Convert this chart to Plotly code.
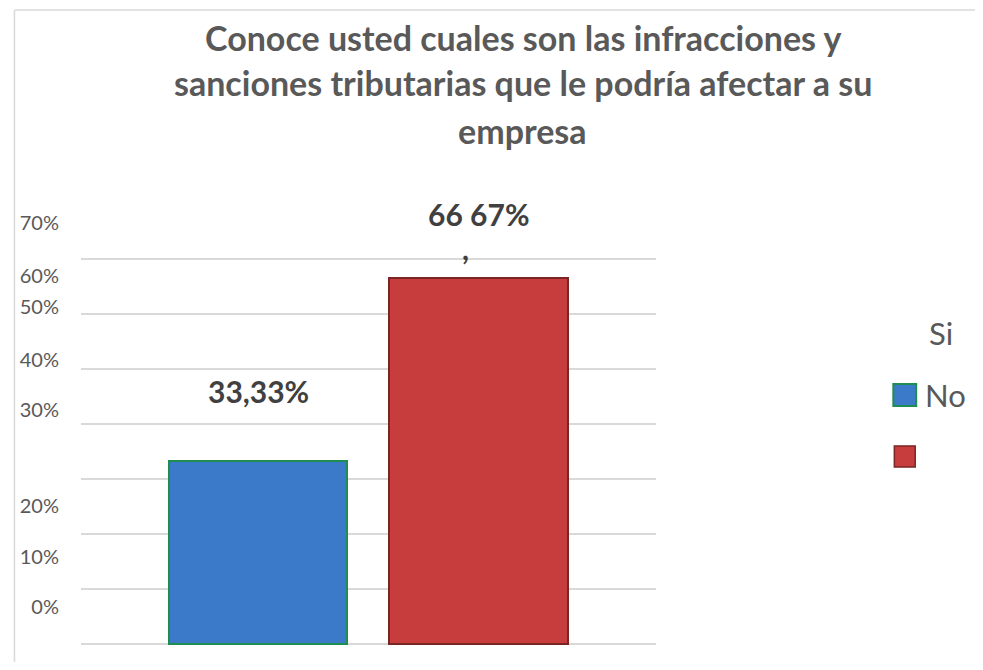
import plotly.graph_objects as go

# ---- data ----
categories = ["Si", "No"]
values = [33.33, 66.67]
value_labels = ["33,33%", "66 67%"]
bar_colors = ["#3b7ac9", "#c73c3c"]
bar_borders = ["#1f8c52", "#7a2424"]

grid_values = [0, 10, 20, 30, 40, 50, 60, 70]
tick_labels = ["0%", "10%", "20%", "30%", "40%", "50%", "60%", "70%"]
tick_positions = [6.7, 15.8, 25.1, 42.6, 51.7, 61.4, 67.0, 76.7]

title_lines = [
    "Conoce usted cuales son las infracciones y",
    "sanciones tributarias que le podría afectar a su",
    "empresa",
]
legend_labels = ["Si", "No", ""]

# ---- layout geometry (pixels in the 983x670 window) ----
OFF = 8  # default page body margin
W_WIN, H_WIN = 983, 670
L, R, T, B = 77, 656, 205, 645
PW, PH = R - L, B - T


def px(x):
    return (x - L) / PW


def py(y):
    return (B - y) / PH


FONT = "Lato"
GREY = "#595959"

fig = go.Figure()
fig.add_trace(go.Bar(
    x=categories, y=values, width=0.81,
    marker=dict(color=bar_colors, line=dict(color=bar_borders, width=2)),
    showlegend=False, hoverinfo="skip",
))

annotations = []
# data labels
shifts = [70, 64]
for c, v, lab, s in zip(categories, values, value_labels, shifts):
    annotations.append(dict(x=c, y=v, xref="x", yref="y", text=f"<b>{lab}</b>",
                            showarrow=False, yshift=s, yanchor="middle",
                            font=dict(family=FONT, size=30, color="#404040")))
annotations.append(dict(x=categories[1], y=values[1], xref="x", yref="y", text="<b>,</b>",
                        showarrow=False, yshift=30, xshift=-13, yanchor="middle",
                        font=dict(family=FONT, size=30, color="#404040")))

# title lines
title_y = [37, 83, 130]
for line, yy in zip(title_lines, title_y):
    annotations.append(dict(x=px(522), y=py(yy), xref="paper", yref="paper",
                            text=f"<b>{line}</b>", showarrow=False,
                            xanchor="center", yanchor="middle",
                            font=dict(family=FONT, size=34, color=GREY)))

# legend
annotations.append(dict(x=px(943), y=py(333), xref="paper", yref="paper", text=legend_labels[0],
                        showarrow=False, xanchor="center", yanchor="middle",
                        font=dict(family=FONT, size=31, color=GREY)))
annotations.append(dict(x=px(925), y=py(395), xref="paper", yref="paper", text=legend_labels[1],
                        showarrow=False, xanchor="left", yanchor="middle",
                        font=dict(family=FONT, size=31, color=GREY)))

shapes = [
    # outer chart border (top and left edges visible)
    dict(type="line", xref="paper", yref="paper", x0=px(10), x1=px(990), y0=py(10), y1=py(10),
         line=dict(color="#d9d9d9", width=1.5), layer="below"),
    dict(type="line", xref="paper", yref="paper", x0=px(10), x1=px(10), y0=py(10), y1=py(680),
         line=dict(color="#d9d9d9", width=1.5), layer="below"),
    # legend markers
    dict(type="rect", xref="paper", yref="paper", x0=px(895), x1=px(918), y0=py(406), y1=py(384),
         fillcolor=bar_colors[0], line=dict(color=bar_borders[0], width=2)),
    dict(type="rect", xref="paper", yref="paper", x0=px(896), x1=px(917), y0=py(467), y1=py(446),
         fillcolor=bar_colors[1], line=dict(color=bar_borders[1], width=1.5)),
]

fig_w = W_WIN - 2 * OFF
fig_h = H_WIN - 2 * OFF
fig.update_layout(
    width=fig_w, height=fig_h,
    margin=dict(l=L - OFF, r=(OFF + fig_w) - R, t=T - OFF, b=(OFF + fig_h) - B, pad=0),
    paper_bgcolor="white", plot_bgcolor="white",
    showlegend=False,
    annotations=annotations,
    shapes=shapes,
    bargap=0,
    xaxis=dict(type="category", range=[-0.805, 1.806], showticklabels=False,
               showgrid=False, zeroline=False, showline=False, ticks=""),
    yaxis=dict(range=[-0.24, 79.9], tickmode="array", tickvals=tick_positions,
               ticktext=tick_labels, showgrid=False, zeroline=False, showline=False,
               ticks="", ticklabelstandoff=21,
               tickfont=dict(family=FONT, size=20, color=GREY),
               minor=dict(tickmode="array", tickvals=grid_values, showgrid=True,
                          gridcolor="#d9d9d9", gridwidth=1.5, ticks="")),
)

fig.write_html("out.html")
